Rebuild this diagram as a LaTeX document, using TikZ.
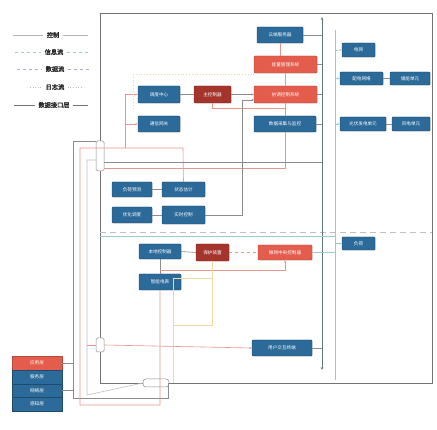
\documentclass[tikz,border=0pt]{standalone}
\usepackage{fontspec}
\newfontfamily\cjk{Noto Sans CJK SC}
\newfontfamily\cjkb[FakeBold=1.6]{Noto Sans CJK SC}
\usetikzlibrary{arrows.meta,shadows}
\definecolor{nblue}{HTML}{2B6A99}
\definecolor{nred}{HTML}{E45C4C}
\definecolor{ndred}{HTML}{A5352C}
\definecolor{lgrey}{HTML}{8C8C8C}
\definecolor{lred}{HTML}{E8958A}
\definecolor{lcyan}{HTML}{9CCACA}
\definecolor{lyel}{HTML}{EED9A0}
\tikzset{
  box/.style={rectangle, rounded corners=1pt, inner sep=0pt, text=white,
    font=\cjk\fontsize{4.6}{5.2}\selectfont, align=center,
    drop shadow={opacity=0.25, shadow xshift=0.6pt, shadow yshift=-0.6pt}},
  nb/.style={box, fill=nblue, draw=nblue!70!black},
  nr/.style={box, fill=nred, draw=nred!80!black},
  ndr/.style={box, fill=ndred, draw=ndred!75!black},
  gline/.style={draw=lgrey, line width=0.6pt},
  rline/.style={draw=lred, line width=0.6pt},
  cline/.style={draw=lcyan, line width=0.6pt},
  yline/.style={draw=lyel, line width=0.7pt},
  arr/.style={-{Stealth[length=2.5pt,width=2pt]}},
  junc/.style={rectangle, rounded corners=1.5pt, draw=lgrey, fill=white, line width=0.5pt, inner sep=0pt},
  legtext/.style={font=\cjkb\fontsize{6.2}{7}\selectfont, text=black!85},
}
\begin{document}
\begin{tikzpicture}[x=1pt,y=-1pt]
\useasboundingbox (0,0) rectangle (437,430);
\fill[white] (0,0) rectangle (437,430);

% legend
\node[legtext] (lg1) at (53,35) {控制};
\node[legtext] (lg2) at (54,52) {信息流};
\node[legtext] (lg3) at (55,69) {数据流};
\node[legtext] (lg4) at (55,87) {日志流};
\node[legtext] (lg5) at (54,105) {数据接口层};
\coordinate (lg1a) at (13,35); \coordinate (lg1b) at (88,35);
\coordinate (lg2a) at (15,52); \coordinate (lg2b) at (88,52);
\coordinate (lg3a) at (17,69); \coordinate (lg3b) at (90,69);
\coordinate (lg4a) at (30,87); \coordinate (lg4b) at (82,87);
\coordinate (lg5a) at (14,105); \coordinate (lg5b) at (88,105);
\draw[draw=black!30, line width=0.6pt] (lg1a) -- (lg1.west) (lg1.east) -- (lg1b);
\draw[draw=lcyan, dashed, line width=0.6pt] (lg2a) -- (lg2.west) (lg2.east) -- (lg2b);
\draw[draw=blue!30!gray!50, dashed, line width=0.6pt] (lg3a) -- (lg3.west) (lg3.east) -- (lg3b);
\draw[draw=black!25, dotted, line width=0.6pt] (lg4a) -- (lg4.west) (lg4.east) -- (lg4b);
\draw[draw=black!55, line width=0.7pt] (lg5a) -- (lg5.west) (lg5.east) -- (lg5b);

% frame
\coordinate (f1) at (100,13); \coordinate (f2) at (432,383);
\draw[draw=black!55, line width=0.9pt] (f1) rectangle (f2);
\coordinate (da) at (100,232); \coordinate (db) at (432,232);
\draw[draw=black!25, dashed, dash pattern=on 6pt off 4pt, line width=0.6pt] (da) -- (db);

% axes
\coordinate (ax1t) at (322,17); \coordinate (ax1b) at (322,370);
\draw[draw=black!40!lcyan, line width=0.8pt, {Stealth[length=3pt,width=2.5pt]}-{Stealth[length=3pt,width=2.5pt]}] (ax1t) -- (ax1b);
\coordinate (ax2t) at (335,30); \coordinate (ax2b) at (335,380);
\draw[cline] (ax2t) -- (ax2b);

% nodes top right
\node[nb, minimum width=46pt, minimum height=16pt] (b1) at (280,35) {云端服务器};
\node[nr, minimum width=63pt, minimum height=17pt] (r1) at (285.5,64.5) {能量管理系统};
\node[nr, minimum width=63pt, minimum height=17pt] (r2) at (285.5,94.5) {协调控制系统};
\node[nb, minimum width=62pt, minimum height=16pt] (b2) at (285,124) {数据采集与监控};
\node[nb, minimum width=33pt, minimum height=14pt] (b3) at (358.5,50) {电网};
\node[nb, minimum width=43pt, minimum height=13pt] (b4) at (361.5,78.5) {配电网络};
\node[nb, minimum width=40pt, minimum height=13pt] (b5) at (410,78.5) {储能单元};
\node[nb, minimum width=46pt, minimum height=14pt] (b6) at (363,124) {光伏发电单元};
\node[nb, minimum width=38pt, minimum height=14pt] (b7) at (411,124) {风电单元};

% top left group
\node[nb, minimum width=42pt, minimum height=17pt] (b8) at (159,94.5) {调度中心};
\node[ndr, minimum width=37pt, minimum height=17pt] (dr1) at (212.5,94.5) {主控制器};
\node[nb, minimum width=42pt, minimum height=16pt] (b9) at (159,124) {通信网关};

% middle group
\node[nb, minimum width=40pt, minimum height=15pt] (b10) at (132,189.5) {负荷预测};
\node[nb, minimum width=43pt, minimum height=15pt] (b11) at (183.5,189.5) {状态估计};
\node[nb, minimum width=40pt, minimum height=16pt] (b12) at (132,215) {优化调度};
\node[nb, minimum width=43pt, minimum height=18pt] (b13) at (183.5,215) {实时控制};

% lower group
\node[nb, minimum width=42pt, minimum height=15pt] (b14) at (160,251.5) {本地控制器};
\node[ndr, minimum width=33pt, minimum height=17pt] (dr2) at (212.5,252.5) {保护装置};
\node[nr, minimum width=54pt, minimum height=15pt] (r3) at (285,252.5) {微网中央控制器};
\node[nb, minimum width=33pt, minimum height=13pt] (b15) at (358.5,243.5) {负荷};
\node[nb, minimum width=42pt, minimum height=16pt] (b16) at (160,282) {智能电表};
\node[nb, minimum width=60pt, minimum height=16pt] (b17) at (282,348) {用户交互终端};

% stack
\node[nr, minimum width=50pt, minimum height=14pt, rounded corners=0pt] (s1) at (37,363) {应用层};
\node[nb, minimum width=50pt, minimum height=13.5pt, rounded corners=0pt] (s2) at (37,377) {服务层};
\node[nb, minimum width=50pt, minimum height=13.5pt, rounded corners=0pt] (s3) at (37,390.5) {网络层};
\node[nb, minimum width=50pt, minimum height=13.5pt, rounded corners=0pt] (s4) at (37,404) {感知层};

% junctions
\node[junc, minimum width=8pt, minimum height=30pt] (j1) at (100,156) {};
\node[junc, minimum width=8pt, minimum height=14pt] (j2) at (100,345) {};
\node[junc, minimum width=26pt, minimum height=8pt, rounded corners=3pt] (j3) at (156,383) {};

% helper coordinates
\coordinate (h141) at (0,141);
\coordinate (h148) at (0,148);
\coordinate (h160) at (0,160);
\coordinate (h162) at (0,162);
\coordinate (h168) at (0,168);
\coordinate (h270) at (0,270);
\coordinate (h325) at (0,325);

% left bus lines
\draw[gline] (s1.east) -- (73,363);
\draw[gline] (s3.east) -- (73,390.5);
\draw[gline] (j1.west |- h141) -- (73,141) -- (73,398) -- (168,398) -- (168,383) -- (j3.east);
\draw[rline] (b11.north) -- (183,148) -- (80,148) -- (80,405) -- (160,405) -- (b16.south);
\draw[draw=black!25, line width=0.6pt] (j1.west |- h160) -- (87,160) -- (87,395) -- (j3.west);

% top-left group links
\draw[rline, arr] (125,148) -- (125,94.5) -- (b8.west);
\draw[rline, arr] (125,124) -- (b9.west);
\draw[draw=lyel, dotted, line width=0.8pt] (133,74) -- (254,74);
\draw[draw=lyel, dotted, line width=0.8pt] (133,74) -- (133,108);
\draw[rline] (dr1.south) |- (285,108);
\draw[gline] (b8.east) -- (dr1.west);
\draw[gline, arr] (dr1.east) -- (r2.west);

% vertical chain through red nodes
\draw[rline] (b1.south) -- (b1.south |- r1.north);
\draw[rline] (r1.south) -- (r1.south |- r2.north);
\draw[rline] (r2.south) -- (r2.south |- b2.north);
\draw[rline] (b2.south) -- (b2.south |- h168) -- (j1.east |- h168);

% grey line from j1 across
\draw[gline] (j1.east |- h162) -- (322,162);

% b13 to r2
\draw[gline, arr] (b13.east) -- (242,215) -- (242,100) -- (254,100);
\draw[gline] (b10.east) -- (b11.west);
\draw[gline] (b12.east) -- (b13.west);

% right side links
\draw[gline] (b1.east) -- (322,35);
\draw[gline] (r1.east) -- (322,64.5);
\draw[gline] (r2.east) -- (322,94.5);
\draw[gline] (b2.east) -- (322,124);
\draw[cline, dashed, arr] (335,50) -- (b3.west);
\draw[cline, dashed, arr] (335,78.5) -- (b4.west);
\draw[cline, dashed, arr] (335,124) -- (b6.west);
\draw[gline] (b4.east) -- (b5.west);
\draw[gline] (b6.east) -- (b7.west);

% lower links
\draw[gline] (b14.east) -- (dr2.west);
\draw[rline, dashed] (dr2.east) -- (r3.west);
\draw[gline] (b14.south) -- (b16.north);
\draw[rline, arr] (160,270) -- (r3.south |- h270) -- (r3.south);
\draw[cline] (r3.east) -- (335,252.5);
\draw[cline, arr] (335,243.5) -- (b15.west);
\draw[cline] (100,236) -- (335,236);
\draw[yline] (dr2.south) -- (dr2.south |- h325) -- (173,325) -- (173,383);
\draw[yline] (173,278) -- (173,325);
\draw[yline] (173,278) -- (dr2.south |- 0,278);
\draw[rline] (87,345) -- (j2.west);
\draw[rline, arr] (j2.east) -- (b17.west);
\draw[gline] (b17.east) -- (322,348);
\end{tikzpicture}
\end{document}
